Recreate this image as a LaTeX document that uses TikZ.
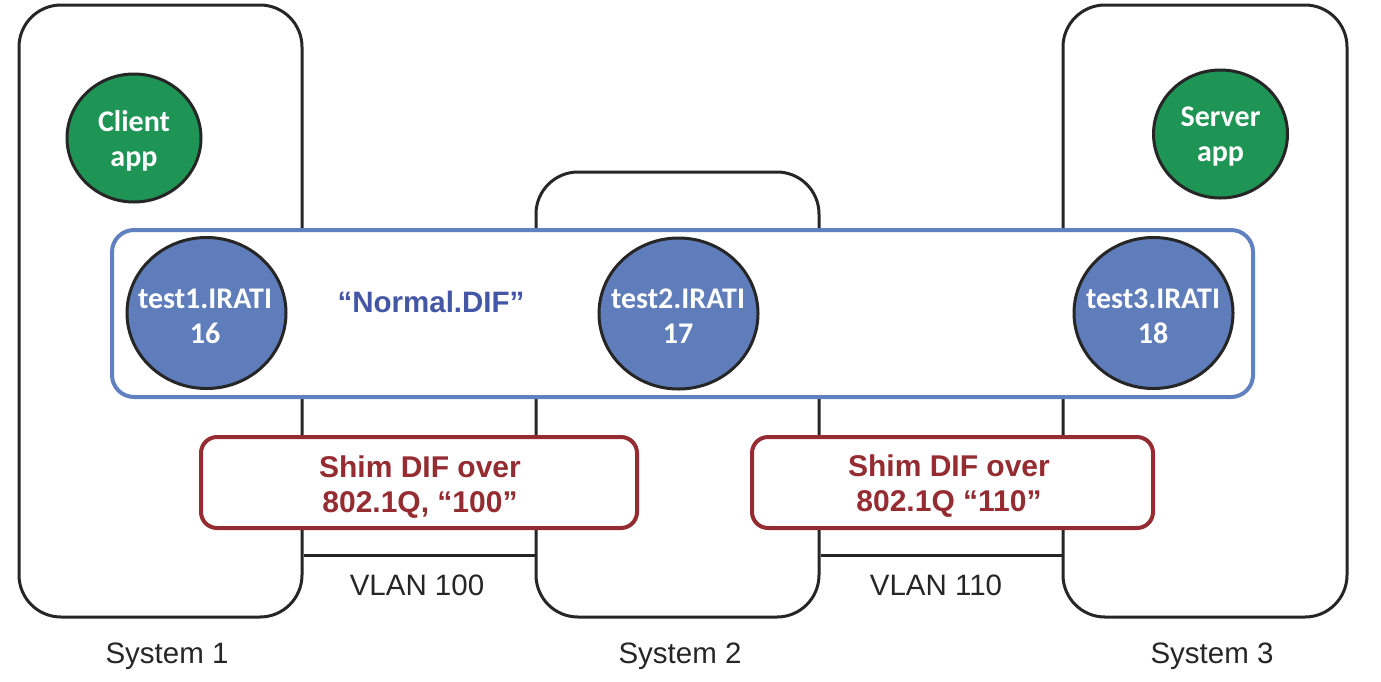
\documentclass[tikz,border=0pt]{standalone}
\usepackage{fontspec}
\setmainfont{Liberation Sans}
\newfontfamily\calibri{Carlito}
\usetikzlibrary{shapes.geometric}
\definecolor{appgreen}{RGB}{30,148,85}
\definecolor{ipcpblue}{RGB}{94,125,186}
\definecolor{difblue}{RGB}{96,128,192}
\definecolor{diftext}{RGB}{68,86,166}
\definecolor{shimred}{RGB}{149,44,50}
\definecolor{ink}{RGB}{38,38,38}
\tikzset{
  sysbox/.style={draw=ink, line width=3pt, rectangle, rounded corners=42pt, inner sep=0pt},
  difbox/.style={draw=difblue, fill=white, line width=4pt, rectangle, rounded corners=22pt, inner sep=0pt},
  shimbox/.style={draw=shimred, fill=white, line width=4pt, rectangle, rounded corners=16pt, inner sep=0pt},
  shimtext/.style={text=shimred, font=\fontsize{30}{35}\selectfont\bfseries, align=center, inner sep=0pt},
  appnode/.style={draw=ink, fill=appgreen, line width=3pt, ellipse, inner sep=0pt,
     minimum width=134pt, minimum height=128pt},
  ipcp/.style={draw=ink, fill=ipcpblue, line width=3pt, ellipse, inner sep=0pt,
     minimum width=159pt, minimum height=151pt},
  circtext/.style={text=white, font=\calibri\fontsize{30}{35}\selectfont\bfseries, align=center, inner sep=0pt},
  lbl/.style={text=ink, font=\fontsize{29.5}{35}\selectfont, inner sep=0pt, anchor=base},
  link/.style={draw=ink, line width=3pt},
}
\begin{document}
\begin{tikzpicture}[x=1pt,y=-1pt]
\useasboundingbox (0,0) rectangle (1381,681);
% systems
\node[sysbox, minimum width=283pt, minimum height=612pt] (sys1) at (160.5,311) {};
\node[sysbox, minimum width=283pt, minimum height=445pt] (sys2) at (677.5,394.5) {};
\node[sysbox, minimum width=284pt, minimum height=612pt] (sys3) at (1205,311) {};
% VLAN links
\coordinate (l1) at (0,555);
\draw[link] (sys1.east |- l1) -- (sys2.west |- l1);
\draw[link] (sys2.east |- l1) -- (sys3.west |- l1);
% normal DIF
\node[difbox, minimum width=1141pt, minimum height=167pt] (dif) at (682.5,313.5) {};
\node[lbl, text=diftext, font=\fontsize{29.5}{35}\selectfont\bfseries] (difname) at (431,312) {“Normal.DIF”};
% shim DIFs
\node[shimbox, minimum width=436pt, minimum height=91pt] (shim1) at (419,482.5) {};
\node[shimtext] (shim1t) at (420,487) {Shim DIF over\\802.1Q, “100”};
\node[shimbox, minimum width=401pt, minimum height=91pt] (shim2) at (952.5,482.5) {};
\node[shimtext] (shim2t) at (949,486) {Shim DIF over\\802.1Q “110”};
% apps
\node[appnode] (client) at (134,138) {};
\node[circtext] (clientt) at (134,141) {Client\\app};
\node[appnode] (server) at (1220.5,134) {};
\node[circtext] (servert) at (1220.5,137) {Server\\app};
% IPC processes
\node[ipcp] (t1) at (206.5,313) {};
\node[circtext] (t1t) at (205,316) {test1.IRATI\\16};
\node[ipcp] (t2) at (678.5,313.5) {};
\node[circtext] (t2t) at (678,316) {test2.IRATI\\17};
\node[ipcp] (t3) at (1153.5,313) {};
\node[circtext] (t3t) at (1153,316) {test3.IRATI\\18};
% labels
\node[lbl] (v100) at (417,595) {VLAN 100};
\node[lbl] (v110) at (936,595) {VLAN 110};
\node[lbl] (s1) at (167,663) {System 1};
\node[lbl] (s2) at (680,663) {System 2};
\node[lbl] (s3) at (1212,663) {System 3};
\end{tikzpicture}
\end{document}
